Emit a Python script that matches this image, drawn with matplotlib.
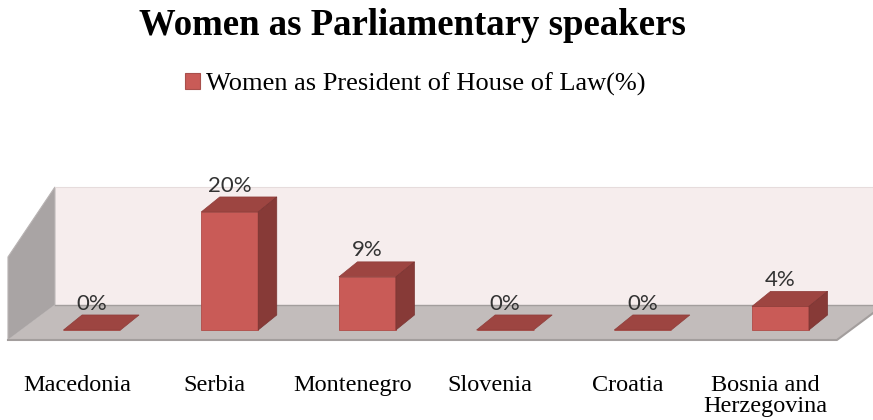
import matplotlib
matplotlib.use('Agg')
import matplotlib.pyplot as plt
from matplotlib.patches import Polygon, Patch

categories = ['Macedonia', 'Serbia', 'Montenegro', 'Slovenia', 'Croatia', 'Bosnia and\nHerzegovina']
values = [0, 20, 9, 0, 0, 4]
value_labels = ['0%', '20%', '9%', '0%', '0%', '4%']
series_name = 'Women as President of House of Law(%)'
title = 'Women as Parliamentary speakers'

FRONT = '#C95B57'
TOP = '#9D4541'
SIDE = '#873A37'
WALL = '#F6EDED'
FLOOR = '#C2BCBB'
LWALL = '#A9A4A4'
EDGE = '#A39E9D'

serif = ['Liberation Serif', 'DejaVu Serif']

fig = plt.figure(figsize=(8.73, 4.20), dpi=100)
ax = fig.add_axes([0, 0, 1, 1])
ax.set_xlim(-0.668, 5.672)
ax.set_ylim(-15.25, 55.93)
ax.axis('off')

ymax = 20
w = 0.414           # bar width (category units)
bdx, bdy = 0.135, 2.55   # bar depth offset
fdx, fdy = 0.341, 5.93   # floor depth offset
fx0, fx1, fy0 = -0.61, 5.41, -1.69

# back wall, side wall, floor
bx0, by0 = fx0 + fdx, fy0 + fdy
ax.add_patch(Polygon([(bx0, by0), (6.0, by0), (6.0, by0 + ymax), (bx0, by0 + ymax)],
                     closed=True, fc=WALL, ec='none', zorder=1))
ax.add_patch(Polygon([(fx0, fy0), (bx0, by0), (bx0, by0 + ymax), (fx0, fy0 + ymax - fdy)],
                     closed=True, fc=LWALL, ec='#B8B3B3', lw=0.8, zorder=2))
ax.add_patch(Polygon([(fx0, fy0), (fx1, fy0), (fx1 + fdx, by0), (bx0, by0)],
                     closed=True, fc=FLOOR, ec='none', zorder=2))
ax.plot([fx0, fx1, fx1 + fdx], [fy0, fy0, by0], color=EDGE, lw=1.5, zorder=3)
ax.plot([bx0, 6.0], [by0, by0], color=EDGE, lw=1.0, zorder=3)
ax.plot([bx0, 6.0], [by0 + ymax, by0 + ymax], color='#E6DCDC', lw=0.8, zorder=3)

x = list(range(len(categories)))
ax.bar(x, values, width=w, bottom=0, color=FRONT, edgecolor='#B04C48', lw=0.6, zorder=5)
for xi, v, lab in zip(x, values, value_labels):
    l, r = xi - w / 2, xi + w / 2
    ax.add_patch(Polygon([(l, v), (r, v), (r + bdx, v + bdy), (l + bdx, v + bdy)],
                         closed=True, fc=TOP, ec='#8E3D3A', lw=0.5, zorder=6))
    if v > 0:
        ax.add_patch(Polygon([(r, 0), (r, v), (r + bdx, v + bdy), (r + bdx, bdy)],
                             closed=True, fc=SIDE, ec='#7A3432', lw=0.5, zorder=6))
    ax.annotate(lab, (xi, v + bdy), xytext=(0, 1), textcoords='offset points',
                ha='center', va='bottom', fontsize=16, color='#333333',
                family=['Lato', 'DejaVu Sans'], zorder=7)

for xi, cat in zip(x, categories):
    ax.text(xi - 0.11, -7.6, cat, ha='center', va='top', fontsize=17.5, family=serif,
            linespacing=1.02, color='black')

fig.text(0.472, 0.94, title, ha='center', va='center', fontsize=26.5,
         fontweight='bold', family=serif)
fig.legend(handles=[Patch(fc=FRONT, ec='#A8504C', lw=0.8)], labels=[series_name],
           loc='center', bbox_to_anchor=(0.476, 0.80), frameon=False,
           prop={'family': serif, 'size': 19}, handlelength=0.55, handleheight=0.55,
           handletextpad=0.25, borderpad=0)

fig.savefig('out.png', dpi=100)
